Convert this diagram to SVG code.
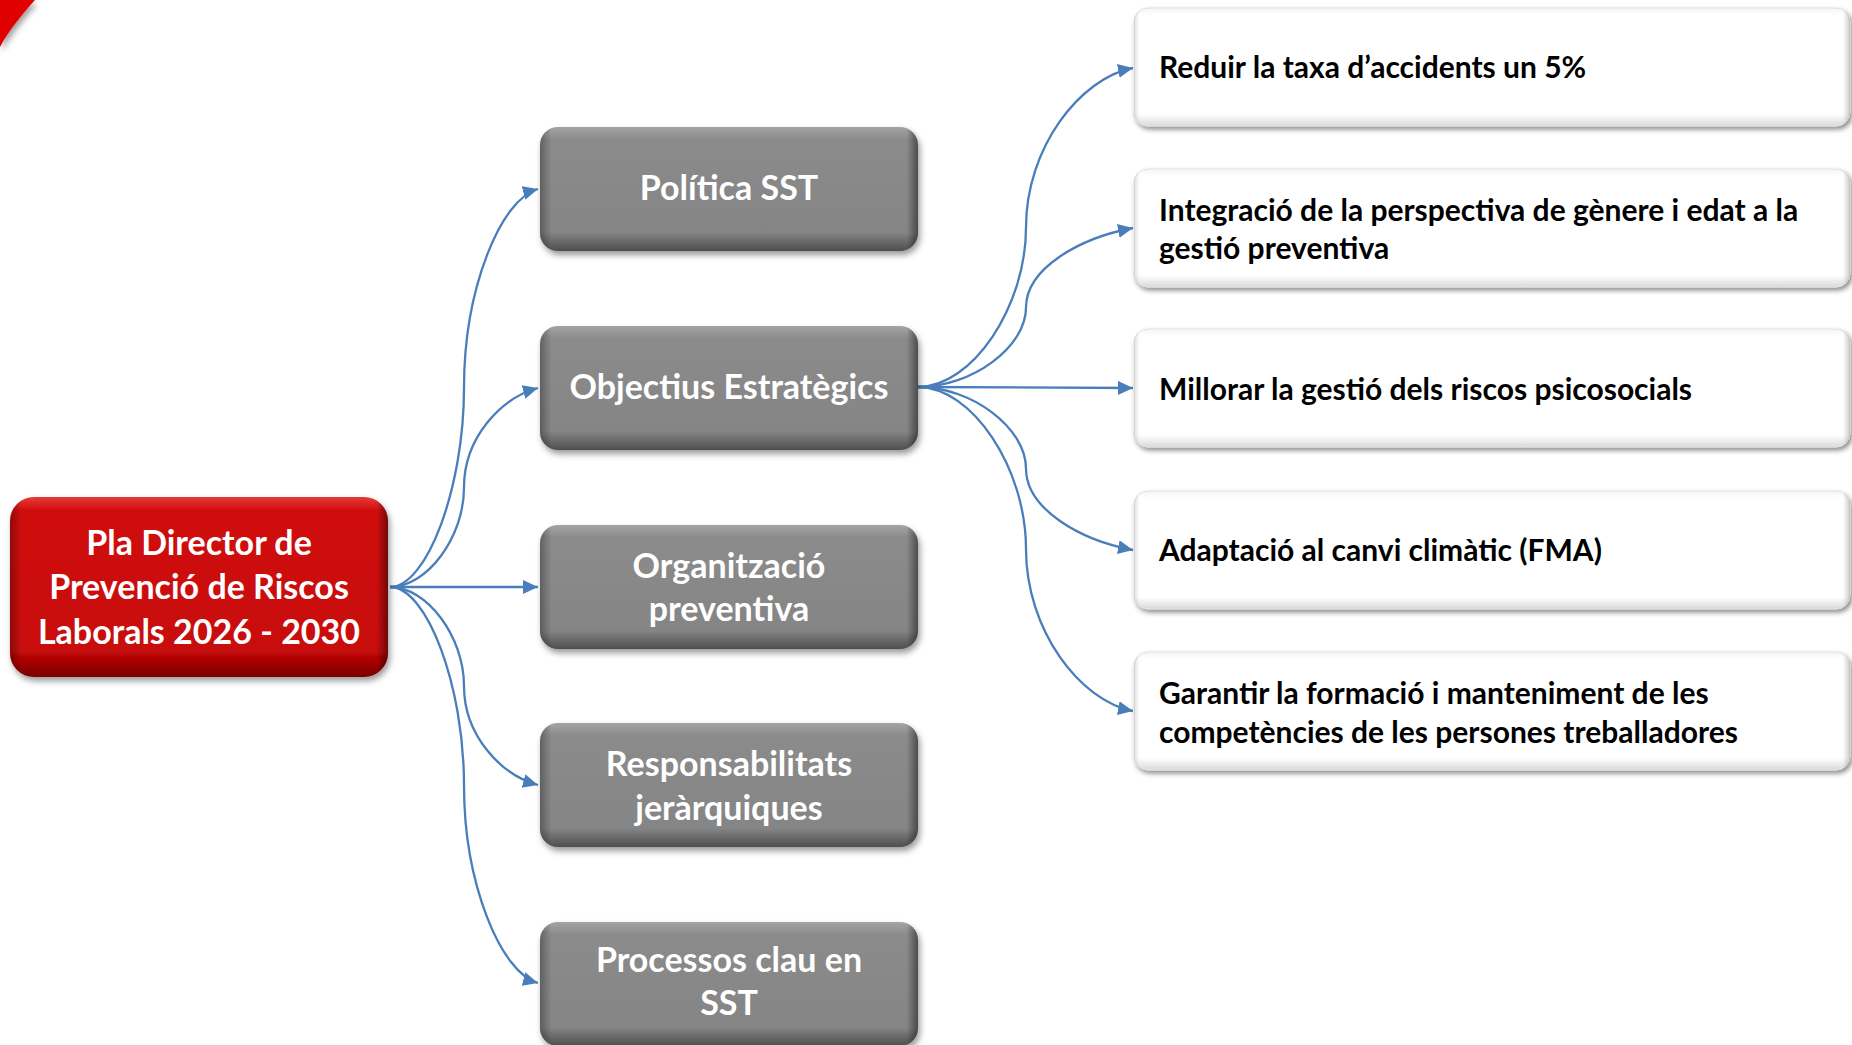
<svg xmlns="http://www.w3.org/2000/svg" width="1852" height="1045" viewBox="0 0 1852 1045">
<defs>
<style>
.t{font-family:"Lato","Liberation Sans",sans-serif;font-weight:700}
.w{fill:#ffffff;font-size:34px;text-anchor:middle}
.b{fill:#000000;font-size:30px}
.c{fill:none;stroke:#4A7EBB;stroke-width:2.3;marker-end:url(#arr)}
</style>
<marker id="arr" markerUnits="userSpaceOnUse" markerWidth="16" markerHeight="16" refX="15" refY="7" orient="auto"><path d="M0,0 L15,7 L0,14 Z" fill="#4A7EBB"/></marker>
<filter id="sh" x="-10%" y="-10%" width="125%" height="135%"><feDropShadow dx="2" dy="4" stdDeviation="3" flood-color="#000" flood-opacity="0.4"/></filter>
<filter id="shw" x="-10%" y="-10%" width="125%" height="135%"><feDropShadow dx="2" dy="3" stdDeviation="2.5" flood-color="#000" flood-opacity="0.45"/></filter>
<linearGradient id="gg" x1="0" y1="0" x2="0" y2="1"><stop offset="0" stop-color="#a4a4a4"/><stop offset="0.1" stop-color="#8b8b8b"/><stop offset="0.85" stop-color="#858585"/><stop offset="1" stop-color="#4e4e4e"/></linearGradient>
<linearGradient id="gh" x1="0" y1="0" x2="1" y2="0"><stop offset="0" stop-color="#000" stop-opacity="0.3"/><stop offset="0.03" stop-color="#000" stop-opacity="0"/><stop offset="0.97" stop-color="#000" stop-opacity="0"/><stop offset="1" stop-color="#000" stop-opacity="0.45"/></linearGradient>
<linearGradient id="rg" x1="0" y1="0" x2="0" y2="1"><stop offset="0" stop-color="#e63a3a"/><stop offset="0.08" stop-color="#d00a0a"/><stop offset="0.85" stop-color="#c80808"/><stop offset="1" stop-color="#7a0000"/></linearGradient>
<linearGradient id="wg" x1="0" y1="0" x2="0" y2="1"><stop offset="0" stop-color="#f4f4f4"/><stop offset="0.06" stop-color="#ffffff"/><stop offset="0.9" stop-color="#ffffff"/><stop offset="1" stop-color="#d9d9d9"/></linearGradient>
<linearGradient id="wh" x1="0" y1="0" x2="1" y2="0"><stop offset="0" stop-color="#000" stop-opacity="0.12"/><stop offset="0.008" stop-color="#000" stop-opacity="0"/><stop offset="0.99" stop-color="#000" stop-opacity="0"/><stop offset="1" stop-color="#000" stop-opacity="0.2"/></linearGradient>
</defs>
<rect width="1852" height="1045" fill="#ffffff"/>

<path id="corner" d="M0,0 H35 C24,12 9,30 0,47 Z" fill="#e00000" filter="url(#sh)"/>

<g id="connectors">
<path class="c" d="M390,587 C427,587 464,487.5 464,388 C464,288.5 501,199 538,189"/>
<path class="c" d="M390,587 C427,587 464,537.5 464,487.5 C464,437.5 501,398 538,388"/>
<path class="c" d="M390,587 L538,587"/>
<path class="c" d="M390,587 C427,587 464,636.5 464,686 C464,735.5 501,775 538,785"/>
<path class="c" d="M390,587 C427,587 464,686 464,785 C464,884 501,973 538,983"/>
<path class="c" d="M918,387 C972,387 1026,307 1026,227.5 C1026,148 1080,78 1133,68"/>
<path class="c" d="M918,387 C972,387 1026,347 1026,307.5 C1026,268 1080,238 1133,228"/>
<path class="c" d="M918,387 L1133,388"/>
<path class="c" d="M918,387 C972,387 1026,428 1026,468.5 C1026,509 1080,540 1133,550"/>
<path class="c" d="M918,387 C972,387 1026,468 1026,549 C1026,630 1080,701 1133,711"/>
</g>

<g id="root">
<rect x="10" y="497" width="378" height="180" rx="24" fill="url(#rg)" filter="url(#sh)"/>
<rect x="10" y="497" width="378" height="180" rx="24" fill="url(#gh)"/>
<text class="t w" x="199"><tspan x="199" y="555">Pla Director de</tspan><tspan x="199" y="599">Prevenció de Riscos</tspan><tspan x="199" y="644">Laborals 2026 - 2030</tspan></text>
</g>

<g id="n-politica">
<rect x="540" y="127" width="378" height="124" rx="18" fill="url(#gg)" filter="url(#sh)"/>
<rect x="540" y="127" width="378" height="124" rx="18" fill="url(#gh)"/>
<text class="t w" x="729" y="200">Política SST</text>
</g>
<g id="n-objectius">
<rect x="540" y="326" width="378" height="124" rx="18" fill="url(#gg)" filter="url(#sh)"/>
<rect x="540" y="326" width="378" height="124" rx="18" fill="url(#gh)"/>
<text class="t w" x="729" y="399">Objectius Estratègics</text>
</g>
<g id="n-organitzacio">
<rect x="540" y="525" width="378" height="124" rx="18" fill="url(#gg)" filter="url(#sh)"/>
<rect x="540" y="525" width="378" height="124" rx="18" fill="url(#gh)"/>
<text class="t w"><tspan x="729" y="578">Organització</tspan><tspan x="729" y="621">preventiva</tspan></text>
</g>
<g id="n-responsabilitats">
<rect x="540" y="723" width="378" height="124" rx="18" fill="url(#gg)" filter="url(#sh)"/>
<rect x="540" y="723" width="378" height="124" rx="18" fill="url(#gh)"/>
<text class="t w"><tspan x="729" y="776">Responsabilitats</tspan><tspan x="729" y="820">jeràrquiques</tspan></text>
</g>
<g id="n-processos">
<rect x="540" y="922" width="378" height="124" rx="18" fill="url(#gg)" filter="url(#sh)"/>
<rect x="540" y="922" width="378" height="124" rx="18" fill="url(#gh)"/>
<text class="t w"><tspan x="729" y="972">Processos clau en</tspan><tspan x="729" y="1015">SST</tspan></text>
</g>

<g id="o1">
<rect x="1134" y="8" width="716" height="118" rx="14" fill="url(#wg)" stroke="#e2e2e2" filter="url(#shw)"/>
<rect x="1134" y="8" width="716" height="118" rx="14" fill="url(#wh)"/>
<text class="t b" x="1159" y="78">Reduir la taxa d’accidents un 5%</text>
</g>
<g id="o2">
<rect x="1134" y="169" width="716" height="118" rx="14" fill="url(#wg)" stroke="#e2e2e2" filter="url(#shw)"/>
<rect x="1134" y="169" width="716" height="118" rx="14" fill="url(#wh)"/>
<text class="t b"><tspan x="1159" y="221">Integració de la perspectiva de gènere i edat a la</tspan><tspan x="1159" y="259">gestió preventiva</tspan></text>
</g>
<g id="o3">
<rect x="1134" y="329" width="716" height="118" rx="14" fill="url(#wg)" stroke="#e2e2e2" filter="url(#shw)"/>
<rect x="1134" y="329" width="716" height="118" rx="14" fill="url(#wh)"/>
<text class="t b" x="1159" y="400">Millorar la gestió dels riscos psicosocials</text>
</g>
<g id="o4">
<rect x="1134" y="491" width="716" height="118" rx="14" fill="url(#wg)" stroke="#e2e2e2" filter="url(#shw)"/>
<rect x="1134" y="491" width="716" height="118" rx="14" fill="url(#wh)"/>
<text class="t b" x="1159" y="561">Adaptació al canvi climàtic (FMA)</text>
</g>
<g id="o5">
<rect x="1134" y="652" width="716" height="118" rx="14" fill="url(#wg)" stroke="#e2e2e2" filter="url(#shw)"/>
<rect x="1134" y="652" width="716" height="118" rx="14" fill="url(#wh)"/>
<text class="t b"><tspan x="1159" y="704">Garantir la formació i manteniment de les</tspan><tspan x="1159" y="743">competències de les persones treballadores</tspan></text>
</g>
</svg>
